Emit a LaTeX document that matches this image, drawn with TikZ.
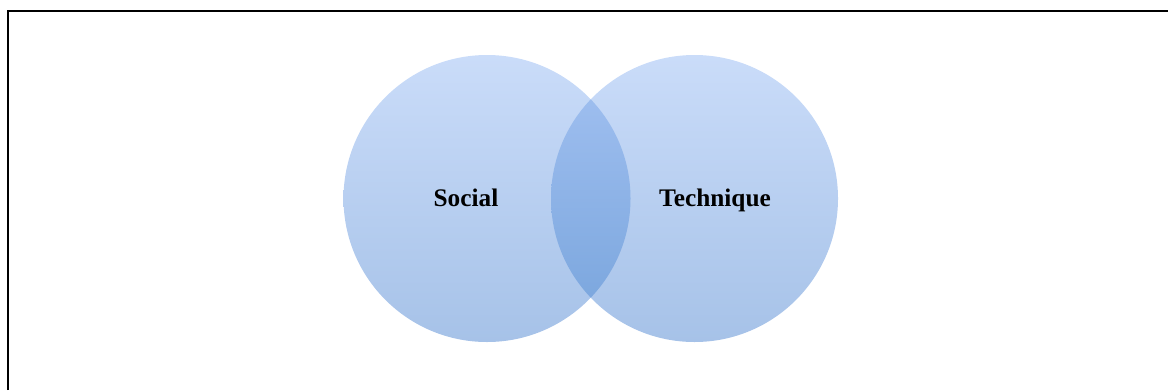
\documentclass[tikz,border=0pt]{standalone}
\usepackage{fontspec}
\setmainfont{Liberation Serif}
\usepackage{tikz}
\usetikzlibrary{positioning}
\definecolor{circtop}{RGB}{202,220,249}
\definecolor{circbot}{RGB}{166,194,232}
\definecolor{lenstop}{RGB}{164,194,242}
\definecolor{lensbot}{RGB}{118,163,219}
\tikzstyle{set}=[circle,minimum size=287*0.02cm,inner sep=0,outer sep=0,top color=circtop,bottom color=circbot]
\tikzstyle{lbl}=[anchor=base,font=\fontsize{14.4}{16}\selectfont\bfseries]

\begin{document}
\begin{tikzpicture}[x=0.02cm,y=0.02cm]
    \useasboundingbox (0,0) rectangle (1168,390);
    \draw[line width=2*0.02cm] (8,0) -- (8,379) -- (1168,379);

    \node[set] (social) at (487,191.5) {};
    \node[set] (technique) at (694.5,191.5) {};

    % overlap of the two sets
    \begin{scope}
        \clip (social.center) circle[radius=143.5];
        \shade[top color=lenstop, bottom color=lensbot] (technique.center) circle[radius=143.5];
    \end{scope}

    \node[lbl] (socialtext) at (466,184) {Social};
    \node[lbl] (techniquetext) at (715,184) {Technique};
\end{tikzpicture}
\end{document}
